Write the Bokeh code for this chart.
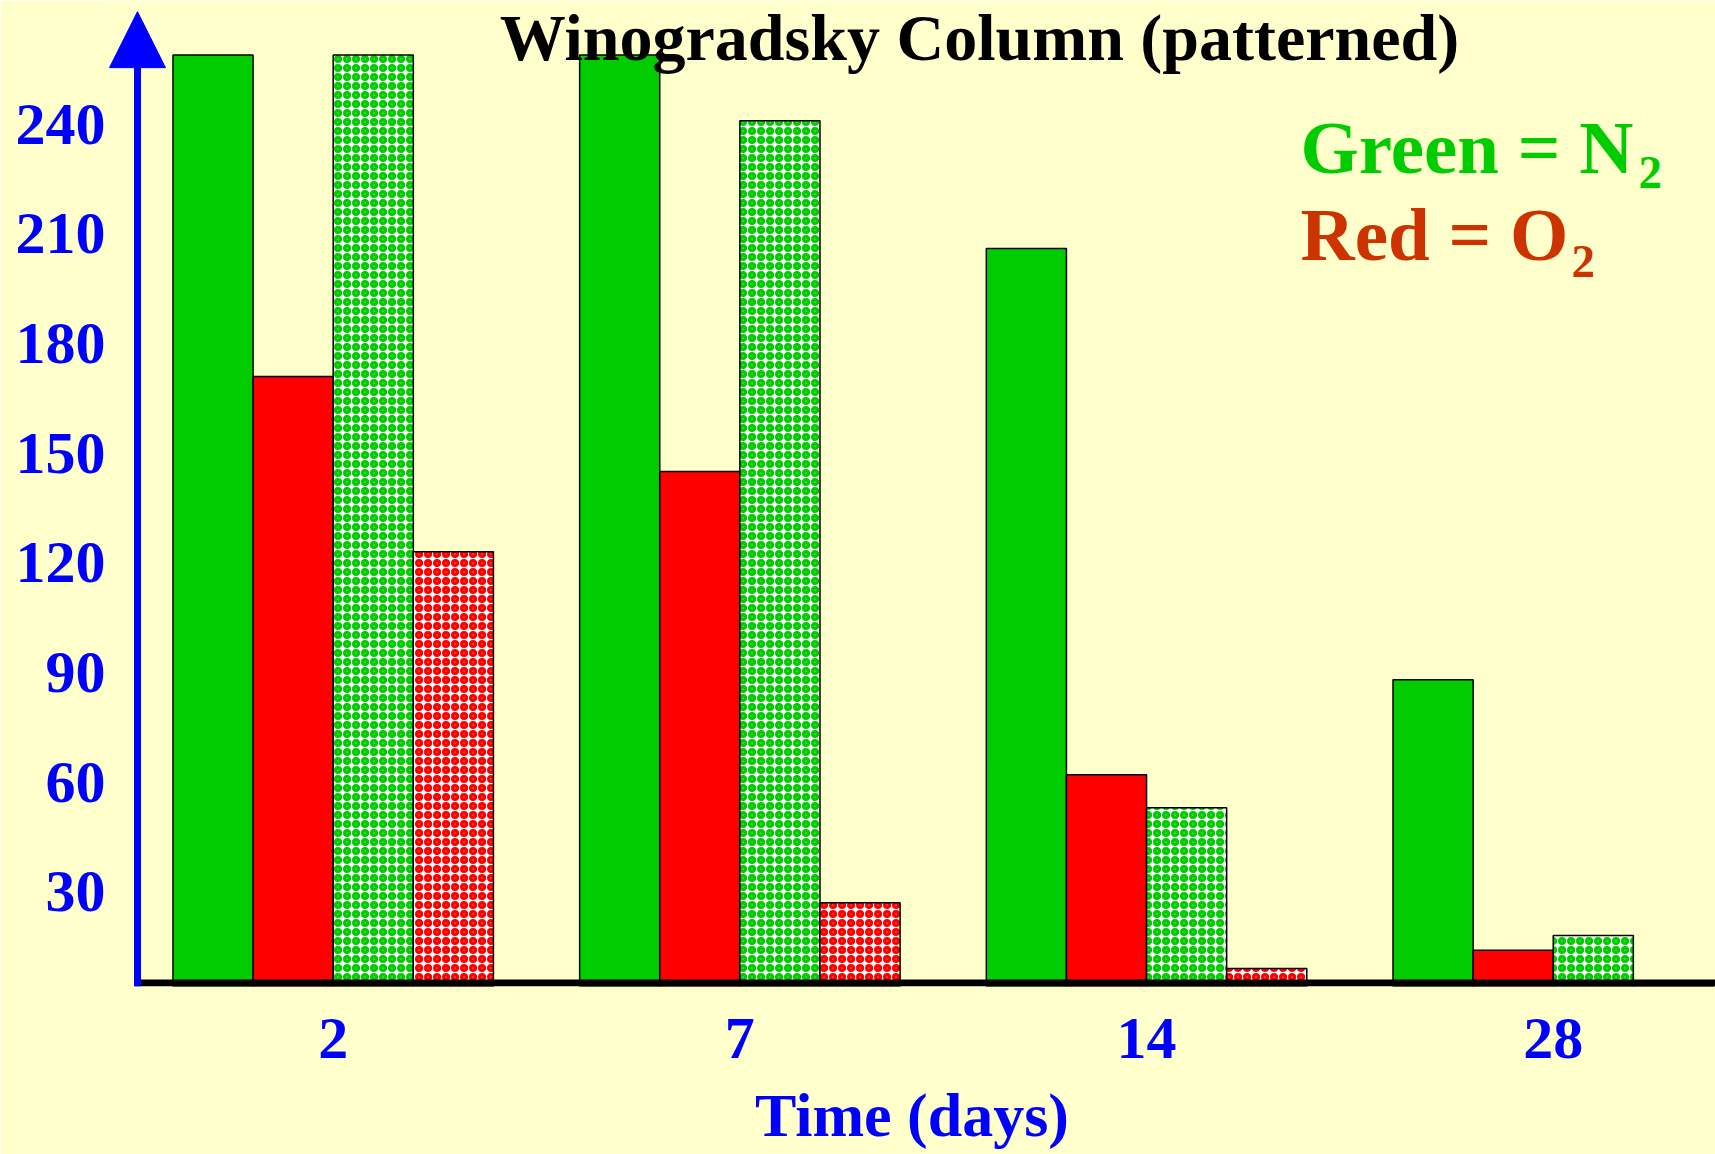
from bokeh.plotting import figure
from bokeh.models import Range1d, FixedTicker, Label, Arrow, NormalHead
from bokeh.embed import file_html
from bokeh.resources import INLINE

# ---- data ----
days = ["2", "7", "14", "28"]
series_names = ["N2 (solid)", "O2 (solid)", "N2 (patterned)", "O2 (patterned)"]
n2_solid = [259, 259, 206, 88]
o2_solid = [171, 145, 62, 14]
n2_patterned = [259, 241, 53, 18]
o2_patterned = [123, 27, 9, 0]
y_ticks = [30, 60, 90, 120, 150, 180, 210, 240]

# ---- styles ----
BG = "#FFFFCC"
GREEN = "#00CC00"
RED = "#FF0000"
RED_TXT = "#CC3300"
BLUE = "#0000FF"
FONT = "Liberation Serif"

W, H = 1715, 1154
FRAME_LEFT, FRAME_BOTTOM_PAD = 108, 168
x_lo, x_hi = -0.0525, 3.899
y_lo, y_hi = 4.05, 273.9
px_per_unit = (H - FRAME_BOTTOM_PAD) / (y_hi - y_lo)
axis_x = 0.0188        # where the blue arrow axis stands
base_x = 0.0114        # where the black base line starts
base_y = y_lo + 3.5 / px_per_unit
arrow_tip = 270.85

p = figure(width=W, height=H, output_backend="svg", toolbar_location=None,
           x_range=Range1d(x_lo, x_hi), y_range=Range1d(y_lo, y_hi),
           min_border_left=FRAME_LEFT, min_border_right=0, min_border_top=0,
           min_border_bottom=FRAME_BOTTOM_PAD)
p.background_fill_color = BG
p.border_fill_color = BG
p.outline_line_color = None
p.grid.visible = False

bar_w = 0.197
centers = [i + 0.5 for i in range(len(days))]
series = [n2_solid, o2_solid, n2_patterned, o2_patterned]
styles = [
    dict(fill_color=GREEN),
    dict(fill_color=RED),
    dict(fill_color="white", hatch_pattern="ring", hatch_color=GREEN, hatch_scale=9, hatch_weight=3.5),
    dict(fill_color="white", hatch_pattern="ring", hatch_color=RED, hatch_scale=9, hatch_weight=3.5),
]
for j, (vals, st) in enumerate(zip(series, styles)):
    xs = [c + (j - 1.5) * bar_w for c in centers]
    p.vbar(x=xs, top=vals, bottom=0, width=bar_w, line_color="black",
           line_width=1.5, name=series_names[j], **st)

# x axis (tick labels and title; the base line is drawn below)
p.xaxis.ticker = FixedTicker(ticks=centers)
p.xaxis.major_label_overrides = {c: d for c, d in zip(centers, days)}
p.xaxis.axis_line_color = None
p.xaxis.major_tick_line_color = None
p.xaxis.minor_tick_line_color = None
p.xaxis.major_tick_out = 0
p.xaxis.minor_tick_out = 0
p.xaxis.major_label_text_font = FONT
p.xaxis.major_label_text_font_style = "bold"
p.xaxis.major_label_text_font_size = "60px"
p.xaxis.major_label_text_color = BLUE
p.xaxis.major_label_standoff = 32
p.xaxis.axis_label = "Time (days)"
p.xaxis.axis_label_text_font = FONT
p.xaxis.axis_label_text_font_style = "bold"
p.xaxis.axis_label_text_font_size = "62px"
p.xaxis.axis_label_text_color = BLUE
p.xaxis.axis_label_standoff = 20

# y axis (labels only; the blue arrow is drawn below)
p.yaxis.ticker = FixedTicker(ticks=y_ticks)
p.yaxis.axis_line_color = None
p.yaxis.major_tick_line_color = None
p.yaxis.minor_tick_line_color = None
p.yaxis.major_tick_out = 0
p.yaxis.minor_tick_out = 0
p.yaxis.major_label_text_font = FONT
p.yaxis.major_label_text_font_style = "bold"
p.yaxis.major_label_text_font_size = "60px"
p.yaxis.major_label_text_color = BLUE
p.yaxis.major_label_standoff = 3

# black base line and blue arrow axis
p.add_layout(Arrow(start=None, end=None, x_start=base_x, y_start=base_y,
                   x_end=x_hi, y_end=base_y, line_color="black", line_width=7))
p.add_layout(Arrow(end=NormalHead(size=56, fill_color=BLUE, line_color=BLUE),
                   x_start=axis_x, y_start=y_lo, x_end=axis_x, y_end=arrow_tip,
                   line_color=BLUE, line_width=7))


def add_text(text, x, y, size, color, align="left"):
    p.add_layout(Label(x=x, y=y, x_units="screen", y_units="screen", text=text,
                       text_align=align, text_baseline="middle", text_font=FONT,
                       text_font_style="bold", text_font_size=f"{size}px",
                       text_color=color))


add_text("Winogradsky Column (patterned)", 871, 949, 66, "black", align="center")
add_text("Green = N", 1192, 839, 75, GREEN)
add_text("2", 1530, 814, 47, GREEN)
add_text("Red = O", 1192, 752, 75, RED_TXT)
add_text("2", 1463, 725, 47, RED_TXT)

open("out.html", "w").write(file_html(p, INLINE))
